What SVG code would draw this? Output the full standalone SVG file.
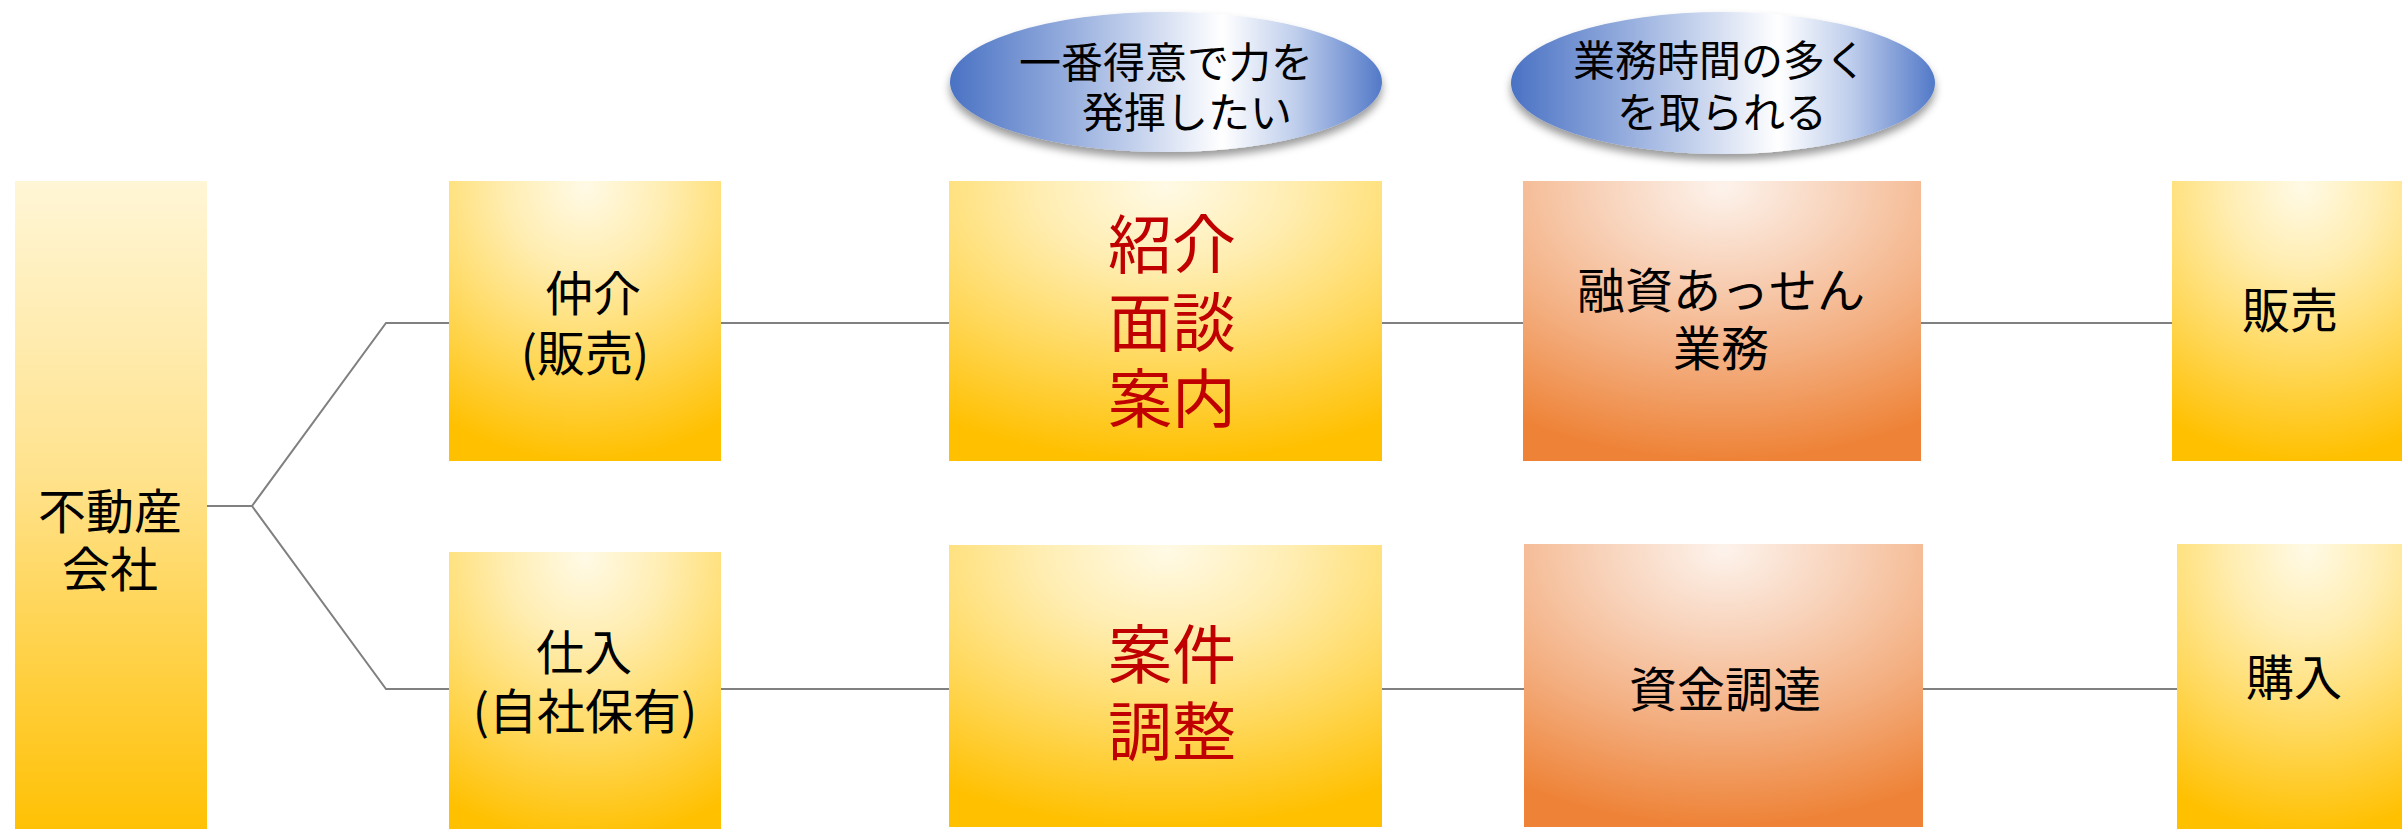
<svg xmlns="http://www.w3.org/2000/svg" width="2402" height="829" viewBox="0 0 2402 829">
<defs>
<radialGradient id="gy" cx="0.5" cy="0" r="1" fx="0.5" fy="0.02">
<stop offset="0" stop-color="#FFFAE6"/>
<stop offset="0.3" stop-color="#FFEDB0"/>
<stop offset="0.65" stop-color="#FFD85A"/>
<stop offset="1" stop-color="#FFC000"/>
</radialGradient>
<linearGradient id="gyt" x1="0" y1="0" x2="0" y2="1">
<stop offset="0" stop-color="#FFF6D6"/>
<stop offset="0.45" stop-color="#FFE28C"/>
<stop offset="1" stop-color="#FFC000"/>
</linearGradient>
<radialGradient id="go" cx="0.5" cy="0" r="1" fx="0.5" fy="0.02">
<stop offset="0" stop-color="#FDF3EC"/>
<stop offset="0.3" stop-color="#F8D3BB"/>
<stop offset="0.65" stop-color="#F3AC7C"/>
<stop offset="1" stop-color="#EE8236"/>
</radialGradient>
<linearGradient id="gb" x1="0" y1="0" x2="1" y2="0">
<stop offset="0" stop-color="#4A72C4"/>
<stop offset="0.3" stop-color="#9DB3E0"/>
<stop offset="0.63" stop-color="#FFFFFF"/>
<stop offset="0.8" stop-color="#BFCEEC"/>
<stop offset="1" stop-color="#5279C8"/>
</linearGradient>
<filter id="sh" x="-10%" y="-10%" width="120%" height="140%">
<feDropShadow dx="0" dy="6" stdDeviation="4" flood-color="#000000" flood-opacity="0.4"/>
</filter>
</defs>
<style>
.t{font-family:"Noto Sans CJK JP","Noto Sans",sans-serif;font-size:48px;fill:#000000;text-anchor:middle}
.e{font-size:42px}
.r{font-size:64px;fill:#C00000}
.ln{stroke:#808080;stroke-width:2;fill:none}
</style>
<rect width="2402" height="829" fill="#FFFFFF"/>
<g id="connectors">
<polyline class="ln" points="207,506 252,506 386,323 449,323"/>
<polyline class="ln" points="252,506 386,689 449,689"/>
<line class="ln" x1="721" y1="323" x2="949" y2="323"/>
<line class="ln" x1="1382" y1="323" x2="1523" y2="323"/>
<line class="ln" x1="1921" y1="323" x2="2172" y2="323"/>
<line class="ln" x1="721" y1="689" x2="949" y2="689"/>
<line class="ln" x1="1382" y1="689" x2="1524" y2="689"/>
<line class="ln" x1="1923" y1="689" x2="2177" y2="689"/>
</g>
<g id="node-fudosan">
<rect x="15" y="181" width="192" height="660" fill="url(#gyt)"/>
<text class="t" x="110" y="529">不動産</text>
<text class="t" x="110" y="587">会社</text>
</g>
<g id="node-chukai">
<rect x="449" y="181" width="272" height="280" fill="url(#gy)"/>
<text class="t" x="593" y="311">仲介</text>
<text class="t" x="585" y="371">(販売)</text>
</g>
<g id="node-shiire">
<rect x="449" y="552" width="272" height="290" fill="url(#gy)"/>
<text class="t" x="584" y="670">仕入</text>
<text class="t" x="585" y="729">(自社保有)</text>
</g>
<g id="node-shokai">
<rect x="949" y="181" width="433" height="280" fill="url(#gy)"/>
<text class="t r" x="1172" y="268">紹介</text>
<text class="t r" x="1172" y="346">面談</text>
<text class="t r" x="1172" y="422">案内</text>
</g>
<g id="node-anken">
<rect x="949" y="545" width="433" height="282" fill="url(#gy)"/>
<text class="t r" x="1172" y="678">案件</text>
<text class="t r" x="1172" y="755">調整</text>
</g>
<g id="node-yushi">
<rect x="1523" y="181" width="398" height="280" fill="url(#go)"/>
<text class="t" x="1721" y="308">融資あっせん</text>
<text class="t" x="1721" y="366">業務</text>
</g>
<g id="node-shikin">
<rect x="1524" y="544" width="399" height="283" fill="url(#go)"/>
<text class="t" x="1725" y="707">資金調達</text>
</g>
<g id="node-hanbai">
<rect x="2172" y="181" width="260" height="280" fill="url(#gy)"/>
<text class="t" x="2290" y="328">販売</text>
</g>
<g id="node-konyu">
<rect x="2177" y="544" width="260" height="290" fill="url(#gy)"/>
<text class="t" x="2294" y="695">購入</text>
</g>
<g id="bubble-1">
<ellipse cx="1166" cy="82" rx="216" ry="70" fill="url(#gb)" filter="url(#sh)"/>
<text class="t e" x="1166" y="78">一番得意で力を</text>
<text class="t e" x="1187" y="128">発揮したい</text>
</g>
<g id="bubble-2">
<ellipse cx="1723" cy="83" rx="212" ry="71" fill="url(#gb)" filter="url(#sh)"/>
<text class="t e" x="1720" y="76">業務時間の多く</text>
<text class="t e" x="1722" y="128">を取られる</text>
</g>
</svg>
